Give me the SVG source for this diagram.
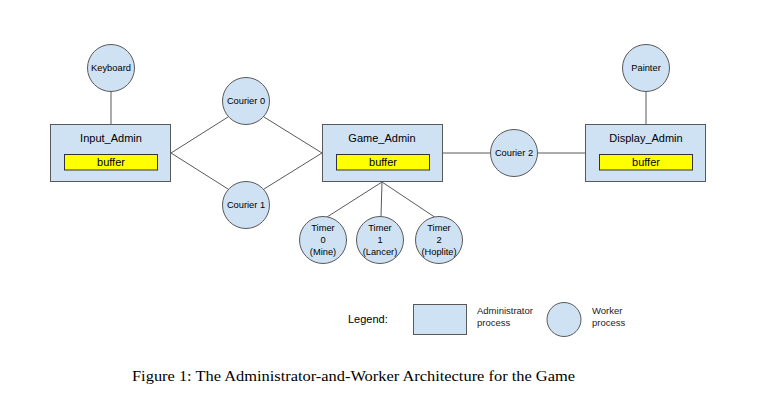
<svg xmlns="http://www.w3.org/2000/svg" width="774" height="404" viewBox="0 0 774 404">
<style>
.admin{fill:#cfe2f3;stroke:#595959;stroke-width:1}
.worker{fill:#cfe2f3;stroke:#595959;stroke-width:1}
.buf{fill:#ffff00;stroke:#333;stroke-width:1}
.conn line{stroke:#595959;stroke-width:1}
text{font-family:"Liberation Sans",Arial,sans-serif;fill:#000;text-anchor:middle}
.t9{font-size:9.3px}
.t11{font-size:11px}
.lg{font-size:9.5px;text-anchor:start;fill:#222}
.cap{font-family:"Liberation Serif","Times New Roman",serif;font-size:14px;text-anchor:start}
</style>
<rect width="774" height="404" fill="#fff"/>
<g id="connectors" class="conn">
<line x1="111" y1="91" x2="111" y2="124"/>
<line x1="646" y1="92" x2="646" y2="124"/>
<line x1="171" y1="153" x2="228" y2="117"/>
<line x1="171" y1="153" x2="228" y2="189"/>
<line x1="264" y1="117" x2="322" y2="153"/>
<line x1="264" y1="189" x2="322" y2="153"/>
<line x1="442" y1="153" x2="490" y2="153"/>
<line x1="538" y1="153" x2="585" y2="153"/>
<line x1="382" y1="182" x2="327" y2="217"/>
<line x1="382" y1="182" x2="381" y2="216"/>
<line x1="382" y1="182" x2="436" y2="218"/>
</g>
<g id="keyboard"><circle class="worker" cx="111" cy="68" r="23.5"/><text class="t9" x="111" y="71">Keyboard</text></g>
<g id="painter"><circle class="worker" cx="646" cy="68" r="23.5"/><text class="t9" x="646" y="71">Painter</text></g>
<g id="input_admin"><rect class="admin" x="50.5" y="124.5" width="120" height="57"/><text class="t11" x="111" y="141.5">Input_Admin</text><rect class="buf" x="64.5" y="154.5" width="93" height="15.5"/><text class="t11" x="111" y="166">buffer</text></g>
<g id="game_admin"><rect class="admin" x="322.5" y="124.5" width="120" height="57"/><text class="t11" x="382" y="141.5">Game_Admin</text><rect class="buf" x="336.5" y="154.5" width="93" height="15.5"/><text class="t11" x="383" y="166">buffer</text></g>
<g id="display_admin"><rect class="admin" x="585.5" y="124.5" width="120" height="57"/><text class="t11" x="646" y="141.5">Display_Admin</text><rect class="buf" x="599.5" y="154.5" width="93" height="15.5"/><text class="t11" x="646" y="166">buffer</text></g>
<g id="courier0"><circle class="worker" cx="246" cy="101" r="23.5"/><text class="t9" x="246" y="104">Courier 0</text></g>
<g id="courier1"><circle class="worker" cx="246" cy="205" r="23.5"/><text class="t9" x="246" y="208">Courier 1</text></g>
<g id="courier2"><circle class="worker" cx="514" cy="153" r="23.5"/><text class="t9" x="514" y="156">Courier 2</text></g>
<g id="timer0"><circle class="worker" cx="323" cy="240" r="23.5"/><text class="t9" x="323" y="230.5">Timer</text><text class="t9" x="323" y="243">0</text><text class="t9" x="323" y="255">(Mine)</text></g>
<g id="timer1"><circle class="worker" cx="380" cy="240" r="23.5"/><text class="t9" x="380" y="230.5">Timer</text><text class="t9" x="380" y="243">1</text><text class="t9" x="380" y="255">(Lancer)</text></g>
<g id="timer2"><circle class="worker" cx="439" cy="240" r="23.5"/><text class="t9" x="439" y="230.5">Timer</text><text class="t9" x="439" y="243">2</text><text class="t9" x="439" y="255">(Hoplite)</text></g>
<g id="legend">
<text x="348" y="323" style="font-size:11px;text-anchor:start">Legend:</text>
<rect class="admin" x="413.5" y="304.5" width="53" height="30"/>
<text class="lg" x="477" y="314">Administrator</text>
<text class="lg" x="477" y="326">process</text>
<circle class="worker" cx="564" cy="319.5" r="17"/>
<text class="lg" x="592" y="314">Worker</text>
<text class="lg" x="592" y="326">process</text>
</g>
<text class="cap" x="132" y="381" textLength="443" lengthAdjust="spacingAndGlyphs">Figure 1: The Administrator-and-Worker Architecture for the Game</text>
</svg>
